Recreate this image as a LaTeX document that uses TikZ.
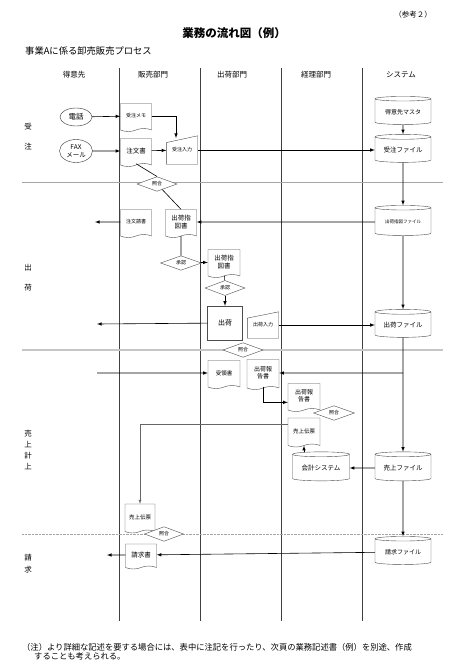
\documentclass[tikz,border=0pt]{standalone}
\usepackage{fontspec}
\setmainfont{Noto Sans CJK JP}
\usetikzlibrary{shapes.geometric, shapes.symbols, arrows, calc}
\tikzstyle{head} = [font=\fontsize{7.5}{9}\selectfont]
\tikzstyle{rowlabel} = [align=center, inner sep=0pt, font=\fontsize{7.5}{9}\selectfont]
\tikzstyle{lane} = [line width=0.8pt, draw=black!75]
\tikzstyle{sep} = [line width=0.6pt, draw=gray!70]
\tikzstyle{party} = [ellipse, draw=black!80, fill=white, minimum width=32pt, minimum height=18pt, inner sep=0pt, align=center, font=\fontsize{7.5}{8}\selectfont]
\tikzstyle{doc} = [tape, tape bend top=none, tape bend height=3pt, draw=black!70, fill=white, minimum width=31pt, minimum height=28pt, inner sep=1pt, align=center, font=\fontsize{5.5}{7}\selectfont]
\tikzstyle{keyin} = [rectangle, minimum width=31pt, minimum height=28pt, inner sep=1pt, font=\fontsize{5}{6}\selectfont, append after command={\pgfextra{\draw [draw=black!70] (\tikzlastnode.south west) -- (\tikzlastnode.south east) -- (\tikzlastnode.north east) -- ($(\tikzlastnode.north west)!0.24!(\tikzlastnode.south west)$) -- cycle;}}]
\tikzstyle{store} = [cylinder, shape border rotate=90, aspect=0.12, draw=black!70, fill=white, minimum width=56pt, minimum height=28pt, inner sep=1pt, font=\fontsize{6.5}{7}\selectfont]
\tikzstyle{check} = [diamond, draw=black!70, fill=white, minimum width=40pt, minimum height=13pt, inner sep=0pt, font=\fontsize{5}{6}\selectfont]
\tikzstyle{process} = [rectangle, draw=black!70, fill=white, minimum width=35pt, minimum height=34pt, font=\fontsize{7}{8}\selectfont]
\tikzstyle{arrow} = [line width=0.6pt, ->, >=latex]
\tikzstyle{line} = [line width=0.6pt]

\begin{document}
\begin{tikzpicture}[x=1pt, y=1pt, yscale=-1]
\useasboundingbox (0,0) rectangle (450,662);

\node at (413,15) (ref) [font=\fontsize{7.5}{9}\selectfont] {（参考２）};
\node at (234,33) (title) [font=\bfseries\fontsize{11.5}{13}\selectfont] {業務の流れ図（例）};
\node at (25,51) (subtitle) [anchor=west, inner sep=0pt, font=\fontsize{9.3}{10}\selectfont] {事業Aに係る卸売販売プロセス};

\node at (74,75) (hcust) [head] {得意先};
\node at (153,75) (hsales) [head] {販売部門};
\node at (232,75) (hship) [head] {出荷部門};
\node at (316,75) (hacct) [head] {経理部門};
\node at (401,75) (hsys) [head] {システム};

\draw [lane] (119,68) -- (119,621);
\draw [lane] (200,68) -- (200,621);
\draw [lane] (281,68) -- (281,621);
\draw [lane] (362,68) -- (362,621);

\draw [sep] (22,182) -- (443,182);
\draw [sep, line width=1.4pt, draw=gray!45] (22,350) -- (443,350);
\draw [sep, line width=0.4pt, densely dotted] (22,534) -- (443,534);

\node at (28,137) (rorder) [rowlabel, font=\fontsize{7.5}{20}\selectfont] {受\\注};
\node at (28,278) (rship) [rowlabel, font=\fontsize{7.5}{20}\selectfont] {出\\荷};
\node at (28,450) (rsales) [rowlabel, font=\fontsize{7.5}{11}\selectfont] {売\\上\\計\\上};
\node at (28,564) (rbill) [rowlabel, font=\fontsize{7.5}{12}\selectfont] {請\\求};

% order
\node at (76,117) (tel) [party] {電話};
\node at (76,151) (fax) [party, minimum width=33pt, minimum height=23pt, font=\fontsize{6.5}{7.5}\selectfont] {FAX\\メール};
\node at (136,116) (memo) [doc, font=\fontsize{5}{6}\selectfont] {受注メモ};
\node at (136,151) (order) [doc, font=\fontsize{6.5}{7}\selectfont] {注文書};
\node at (182,150) (inp1) [keyin] {受注入力};
\coordinate (inp1top) at (176,138);
\node at (403,112) (mst) [store, font=\fontsize{6}{7}\selectfont] {得意先マスタ};
\node at (403,150) (ofile) [store] {受注ファイル};
\node at (157,184) (chk1) [check] {照合};

% shipment
\node at (136,222) (ack) [doc, font=\fontsize{5}{6}\selectfont] {注文請書};
\coordinate (ackout) at (95,222);
\node at (181,222) (inst) [doc, font=\fontsize{6.5}{7.5}\selectfont] {出荷指\\図書};
\node at (403,222) (ifile) [store, minimum height=30pt, font=\fontsize{4.5}{5}\selectfont] {出荷指図ファイル};
\node at (181,263) (appr1) [check, minimum width=41pt] {承認};
\node at (224,262) (inst2) [doc, minimum width=32pt, font=\fontsize{6.5}{7.5}\selectfont] {出荷指\\図書};
\node at (225,288) (appr2) [check, minimum height=15pt] {承認};
\node at (225,323) (ship) [process] {出荷};
\coordinate (shipout) at (97,324);
\node at (263,325) (inp2) [keyin, minimum height=26pt] {出荷入力};
\node at (403,325) (sfile) [store] {出荷ファイル};
\node at (243,350) (chk2) [check, minimum height=14pt] {照合};

% sales
\coordinate (rcptin) at (97,373);
\node at (224,373) (rcpt) [doc, minimum width=32pt] {受領書};
\node at (263,373) (rep) [doc, minimum width=32pt, minimum height=30pt, font=\fontsize{6}{7}\selectfont] {出荷報\\告書};
\node at (304,396) (rep2) [doc, minimum width=32pt, font=\fontsize{6}{7}\selectfont] {出荷報\\告書};
\node at (334,413) (chk3) [check, minimum width=41pt, minimum height=12pt] {照合};
\node at (304,431) (slip) [doc, minimum width=32pt, minimum height=29pt] {売上伝票};
\node at (321,468) (acct) [store, minimum width=57pt, minimum height=29pt] {会計システム};
\node at (403,468) (salesf) [store, minimum height=29pt] {売上ファイル};
\node at (140,517) (slip2) [doc, minimum width=30pt, minimum height=29pt] {売上伝票};
\node at (164,534) (chk4) [check, minimum width=39pt] {照合};

% billing
\node at (141,555) (bill) [doc, minimum height=25pt, font=\fontsize{6.5}{7}\selectfont] {請求書};
\coordinate (billout) at (107,555);
\node at (403,552) (bfile) [store, font=\fontsize{6}{7}\selectfont] {請求ファイル};

\draw [arrow] (tel) -- (memo);
\draw [arrow] (fax) -- (order);
\draw [arrow] (memo.east) -| (inp1top);
\draw [arrow] (order) -- (inp1);
\draw [arrow] (inp1) -- (ofile);
\draw [arrow] (mst) -- (ofile);
\draw [line] (order.south) -- (chk1.north);
\draw [line] (chk1) -- (inst.north);

\draw [arrow] (ofile) -- (ifile);
\draw [arrow] (ack) -- (ackout);
\draw [arrow] (ifile) -- (inst);
\draw [line] (inst) -- (appr1);
\draw [arrow] (appr1) -- (inst2);
\draw [line] (inst2) -- (appr2);
\draw [arrow] (appr2) -- (ship);
\draw [arrow] (ship) -- (shipout);
\draw [arrow] (inp2) -- (sfile);
\draw [arrow] (ifile) -- (sfile);

\draw [arrow] (rcptin) -- (rcpt);
\draw [arrow] (sfile) -- (salesf);
\draw [arrow] (rep -| sfile) -- (rep);
\draw [arrow] (rep.south) |- ($(rep2.west)!0.5!(rep2.south west)$);
\draw [arrow] (acct.north -| slip) -- (slip);
\draw [arrow] (salesf) -- (acct);
\draw [arrow, line width=0.4pt, draw=black!60] ($(slip.west)!0.5!(slip.north west)$) -| (slip2.north);
\draw [arrow] (salesf) -- (bfile);
\draw [arrow] (bfile) -- (bill);
\draw [arrow] (bill) -- (billout);

\node at (22,647) (note1) [anchor=west, inner sep=0pt, font=\fontsize{8.3}{9}\selectfont] {（注）より詳細な記述を要する場合には、表中に注記を行ったり、次頁の業務記述書（例）を別途、作成};
\node at (34,656) (note2) [anchor=west, inner sep=0pt, font=\fontsize{8.3}{9}\selectfont] {することも考えられる。};
\end{tikzpicture}
\end{document}
